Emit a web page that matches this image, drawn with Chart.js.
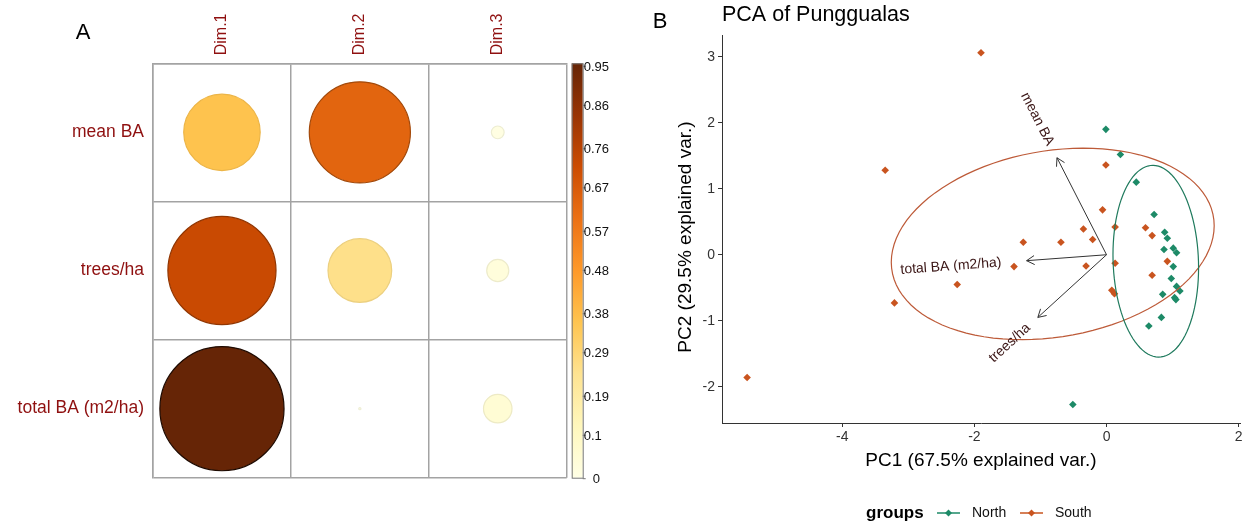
<!DOCTYPE html>
<html>
<head>
<meta charset="utf-8">
<script src="https://cdn.jsdelivr.net/npm/chart.js@4.4.1/dist/chart.umd.min.js"></script>
<style>
  body { margin: 0; background: #fff; width: 1250px; height: 524px; overflow: hidden; position: relative; }
  #wrapA { position: absolute; left: 0; top: 0; width: 630px; height: 541px; z-index: 1; }
  #wrapB { position: absolute; left: 620px; top: 0; width: 630px; height: 524px; z-index: 2; }
</style>
</head>
<body>
<div id="wrapA"><canvas id="corrChart" width="630" height="541"></canvas></div>
<div id="wrapB"><canvas id="pcaChart" width="630" height="524"></canvas></div>
<script>
// panel A : cos2 des variables
const dims = ['Dim.1', 'Dim.2', 'Dim.3'];
const variables = ['mean BA', 'trees/ha', 'total BA (m2/ha)'];
const cos2Dim1 = [0.36, 0.72, 0.95];
const cos2Dim2 = [0.63, 0.25, 0.0003];
const cos2Dim3 = [0.01, 0.03, 0.05];
const colorbarTicks = [0, 0.1, 0.19, 0.29, 0.38, 0.48, 0.57, 0.67, 0.76, 0.86, 0.95];

// panel B : scores PCA
const northX = [-0.01, 0.21, 0.45, 0.72, 0.88, 0.92, 0.87, 1.01, 1.06, 1.01, 0.98, 1.06, 1.11, 0.85, 1.03, 1.05, 0.83, 0.64, -0.51];
const northY = [1.90, 1.52, 1.10, 0.61, 0.34, 0.25, 0.08, 0.10, 0.03, -0.18, -0.36, -0.48, -0.55, -0.60, -0.65, -0.68, -0.95, -1.08, -2.27];
const southX = [-1.90, -3.35, -5.44, -3.21, -2.26, -1.40, -1.26, -0.69, -0.35, -0.21, -0.31, -0.06, -0.01, 0.13, 0.13, 0.08, 0.12, 0.59, 0.69, 0.92, 0.69];
const southY = [3.06, 1.28, -1.86, -0.73, -0.45, -0.18, 0.19, 0.19, 0.39, 0.23, -0.17, 0.68, 1.36, 0.42, -0.13, -0.54, -0.59, 0.41, 0.29, -0.10, -0.31];
const loadingX = [-0.75, -1.04, -1.21];
const loadingY = [1.47, -0.95, -0.09];
const pcXTicks = [-4, -2, 0, 2];
const pcYTicks = [-2, -1, 0, 1, 2, 3];

const FONT = '"Liberation Sans", Arial, sans-serif';
Chart.defaults.font.family = FONT;

const ylOrBr = ['#FFFFE5', '#FFF7BC', '#FEE391', '#FEC44F', '#FE9929', '#EC7014', '#CC4C02', '#993404', '#662506'];
const northColor = '#1d8a67';
const southColor = '#c9541f';

function hexToRgb(h) {
  return [parseInt(h.slice(1, 3), 16), parseInt(h.slice(3, 5), 16), parseInt(h.slice(5, 7), 16)];
}

function colorFor(v, dark) {
  let t = Math.max(0, Math.min(1, v / 0.95)) * (ylOrBr.length - 1);
  let i = Math.min(Math.floor(t), ylOrBr.length - 2);
  let f = t - i;
  let a = hexToRgb(ylOrBr[i]), b = hexToRgb(ylOrBr[i + 1]);
  let c = a.map((x, k) => Math.round((x + (b[k] - x) * f) * (dark || 1)));
  return 'rgb(' + c.join(',') + ')';
}

// grille : 3 cases de 138 px, a partir de x=153, y=63
// (le canvas depasse un peu a droite/en bas car chart.js reserve le rayon max des bulles)
const cellSize = 138;
const corrLeft = 153, corrTop = 63;

const cos2 = [cos2Dim1, cos2Dim2, cos2Dim3];
const bubbleData = [];
const bubbleFill = [];
const bubbleEdge = [];
dims.forEach((d, j) => {
  variables.forEach((name, i) => {
    const v = cos2[j][i];
    bubbleData.push({ x: d, y: name, r: 0.45 * cellSize * Math.sqrt(v / 0.95) });
    bubbleFill.push(colorFor(v));
    bubbleEdge.push(colorFor(v, v > 0.9 ? 0.3 : v > 0.5 ? 0.72 : 0.93));
  });
});

const gridGray = '#a3a3a3';
const labelRed = '#8f1010';

// barre de couleurs, etiquettes Dim, lettre A
const corrExtras = {
  id: 'corrExtras',
  afterDraw(chart) {
    const ctx = chart.ctx, ca = chart.chartArea, xs = chart.scales.x;
    const x0 = ca.right + 5, w = 11;
    const max = colorbarTicks[colorbarTicks.length - 1];
    ctx.save();
    const grad = ctx.createLinearGradient(0, ca.bottom, 0, ca.top);
    ylOrBr.forEach((c, i) => grad.addColorStop(i / (ylOrBr.length - 1), c));
    ctx.fillStyle = grad;
    ctx.fillRect(x0, ca.top, w, ca.bottom - ca.top);
    ctx.strokeStyle = '#777';
    ctx.lineWidth = 1;
    ctx.strokeRect(x0 + 0.5, ca.top + 0.5, w, ca.bottom - ca.top);
    ctx.font = '13px ' + FONT;
    ctx.fillStyle = '#111';
    ctx.textBaseline = 'middle';
    ctx.textAlign = 'left';
    colorbarTicks.forEach(v => {
      const y = ca.bottom + 1 - (v / max) * (ca.bottom - ca.top - 2);
      ctx.beginPath();
      ctx.moveTo(x0 + w, y);
      ctx.lineTo(x0 + w + 3, y);
      ctx.stroke();
      ctx.fillText(String(v), x0 + w + (v === 0 ? 10 : 1), y + 1);
    });
    // column labels
    ctx.font = '16px ' + FONT;
    ctx.fillStyle = labelRed;
    dims.forEach(d => {
      ctx.save();
      ctx.translate(xs.getPixelForValue(d), ca.top - 8);
      ctx.rotate(-Math.PI / 2);
      ctx.fillText(d, 0, 0);
      ctx.restore();
    });
    ctx.font = '22px ' + FONT;
    ctx.fillStyle = '#000';
    ctx.textAlign = 'center';
    ctx.fillText('A', 83, 33);
    ctx.restore();
  }
};

new Chart(document.getElementById('corrChart'), {
  type: 'bubble',
  data: {
    datasets: [{
      data: bubbleData,
      backgroundColor: bubbleFill,
      borderColor: bubbleEdge,
      borderWidth: 1.2,
      hoverRadius: 0
    }]
  },
  options: {
    responsive: false,
    animation: false,
    events: [],
    layout: { padding: 0 },
    plugins: { legend: { display: false }, tooltip: { enabled: false } },
    scales: {
      x: {
        type: 'category',
        labels: dims,
        position: 'top',
        offset: true,
        grid: { offset: true, color: gridGray, lineWidth: 1.5, drawTicks: false },
        border: { color: gridGray, width: 1.5 },
        ticks: { display: false },
        afterFit: s => { s.height = corrTop; }
      },
      y: {
        type: 'category',
        labels: variables,
        offset: true,
        grid: { offset: true, color: gridGray, lineWidth: 1.5, drawTicks: false },
        border: { color: gridGray, width: 1.5 },
        ticks: { color: labelRed, font: { size: 17.5 }, padding: 9 },
        afterFit: s => { s.width = corrLeft; }
      }
    }
  },
  plugins: [corrExtras]
});

// ellipse normale (comme ggbiplot, prob 0.68)
function dataEllipse(xs, ys) {
  const n = xs.length;
  const mx = xs.reduce((a, b) => a + b, 0) / n;
  const my = ys.reduce((a, b) => a + b, 0) / n;
  let sxx = 0, syy = 0, sxy = 0;
  for (let i = 0; i < n; i++) {
    sxx += (xs[i] - mx) ** 2;
    syy += (ys[i] - my) ** 2;
    sxy += (xs[i] - mx) * (ys[i] - my);
  }
  sxx /= n - 1; syy /= n - 1; sxy /= n - 1;
  const a = Math.sqrt(sxx), b = sxy / a, c = Math.sqrt(syy - b * b);
  const ed = Math.sqrt(-2 * Math.log(1 - 0.68));
  const pts = [];
  for (let k = 0; k <= 100; k++) {
    const t = -Math.PI + 2 * Math.PI * k / 100;
    const u = Math.cos(t), w = Math.sin(t);
    pts.push({ x: mx + ed * u * a, y: my + ed * (u * b + w * c) });
  }
  return pts;
}

const ellipses = [
  { pts: dataEllipse(southX, southY), color: '#bd5a38' },
  { pts: dataEllipse(northX, northY), color: '#1f7a5d' }
];

const pcaExtras = {
  id: 'pcaExtras',
  beforeDatasetsDraw(chart) {
    const ctx = chart.ctx, xs = chart.scales.x, ys = chart.scales.y;
    ctx.save();
    // arrows
    const ox = xs.getPixelForValue(0), oy = ys.getPixelForValue(0);
    ctx.strokeStyle = '#333';
    ctx.lineWidth = 1;
    loadingX.forEach((lx, i) => {
      const tx = xs.getPixelForValue(lx), ty = ys.getPixelForValue(loadingY[i]);
      const ang = Math.atan2(ty - oy, tx - ox);
      ctx.beginPath();
      ctx.moveTo(ox, oy);
      ctx.lineTo(tx, ty);
      ctx.moveTo(tx - 9 * Math.cos(ang - Math.PI / 6), ty - 9 * Math.sin(ang - Math.PI / 6));
      ctx.lineTo(tx, ty);
      ctx.lineTo(tx - 9 * Math.cos(ang + Math.PI / 6), ty - 9 * Math.sin(ang + Math.PI / 6));
      ctx.stroke();
    });
    ctx.restore();
  },
  afterDatasetsDraw(chart) {
    const ctx = chart.ctx, xs = chart.scales.x, ys = chart.scales.y, ca = chart.chartArea;
    ctx.save();
    ctx.beginPath();
    ctx.rect(ca.left, ca.top, ca.right - ca.left, ca.bottom - ca.top);
    ctx.clip();
    ellipses.forEach(e => {
      ctx.beginPath();
      e.pts.forEach((p, k) => {
        const px = xs.getPixelForValue(p.x), py = ys.getPixelForValue(p.y);
        if (k === 0) ctx.moveTo(px, py); else ctx.lineTo(px, py);
      });
      ctx.strokeStyle = e.color;
      ctx.lineWidth = 1.2;
      ctx.stroke();
    });
    // variable labels
    ctx.font = '14px ' + FONT;
    ctx.fillStyle = '#3a1515';
    ctx.textAlign = 'center';
    ctx.textBaseline = 'middle';
    variables.forEach((name, i) => {
      const lx = loadingX[i], ly = loadingY[i];
      const tx = xs.getPixelForValue(lx), ty = ys.getPixelForValue(ly);
      const theta = Math.atan(ly / lx);
      const w = ctx.measureText(name).width;
      const dx = Math.cos(-theta), dy = Math.sin(-theta);
      const s = Math.sign(lx) * 0.75 * w;
      ctx.save();
      ctx.translate(tx + s * dx, ty + s * dy);
      ctx.rotate(-theta);
      ctx.fillText(name, 0, 0);
      ctx.restore();
    });
    ctx.restore();
  },
  afterDraw(chart) {
    const ctx = chart.ctx, ca = chart.chartArea;
    ctx.save();
    ctx.fillStyle = '#000';
    ctx.textBaseline = 'middle';
    ctx.font = '22px ' + FONT;
    ctx.textAlign = 'center';
    ctx.fillText('B', 40, 22);
    ctx.font = '21.5px ' + FONT;
    ctx.textAlign = 'left';
    ctx.fillText('PCA of Punggualas', ca.left, 15);
    ctx.font = '19px ' + FONT;
    ctx.textAlign = 'center';
    ctx.fillText('PC1 (67.5% explained var.)', (ca.left + ca.right) / 2, 461);
    ctx.save();
    ctx.translate(66, (ca.top + ca.bottom) / 2 + 8);
    ctx.rotate(-Math.PI / 2);
    ctx.fillText('PC2 (29.5% explained var.)', 0, 0);
    ctx.restore();
    // legend
    ctx.font = 'bold 17px ' + FONT;
    ctx.textAlign = 'left';
    ctx.fillText('groups', 246, 513);
    const items = [['North', northColor, 317], ['South', southColor, 400]];
    items.forEach(([lab, col, x]) => {
      ctx.strokeStyle = col;
      ctx.lineWidth = 1.5;
      ctx.beginPath();
      ctx.moveTo(x, 513);
      ctx.lineTo(x + 23, 513);
      ctx.stroke();
      ctx.fillStyle = col;
      ctx.beginPath();
      ctx.moveTo(x + 11.5, 509.5);
      ctx.lineTo(x + 15, 513);
      ctx.lineTo(x + 11.5, 516.5);
      ctx.lineTo(x + 8, 513);
      ctx.closePath();
      ctx.fill();
      ctx.fillStyle = '#111';
      ctx.font = '14px ' + FONT;
      ctx.fillText(lab, x + 35, 513);
    });
    ctx.restore();
  }
};

new Chart(document.getElementById('pcaChart'), {
  type: 'scatter',
  data: {
    datasets: [
      {
        label: 'North',
        data: northX.map((x, i) => ({ x: x, y: northY[i] })),
        pointStyle: 'rectRot', radius: 3.8,
        backgroundColor: northColor, borderColor: northColor, borderWidth: 0
      },
      {
        label: 'South',
        data: southX.map((x, i) => ({ x: x, y: southY[i] })),
        pointStyle: 'rectRot', radius: 3.8,
        backgroundColor: southColor, borderColor: southColor, borderWidth: 0
      }
    ]
  },
  options: {
    responsive: false,
    animation: false,
    events: [],
    layout: { padding: { left: 0, top: 35, right: 10, bottom: 0 } },
    plugins: { legend: { display: false }, tooltip: { enabled: false } },
    scales: {
      x: {
        min: -5.82, max: 2.02,
        afterBuildTicks: s => { s.ticks = pcXTicks.map(v => ({ value: v })); },
        afterFit: s => { s.height = 101; },
        grid: { drawOnChartArea: false, drawTicks: true, tickLength: 4, color: '#333' },
        border: { color: '#333', width: 1 },
        ticks: { color: '#333', font: { size: 14 }, padding: 2 }
      },
      y: {
        min: -2.55, max: 3.33,
        afterBuildTicks: s => { s.ticks = pcYTicks.map(v => ({ value: v })); },
        afterFit: s => { s.width = 102; },
        grid: { drawOnChartArea: false, drawTicks: true, tickLength: 4, color: '#333' },
        border: { color: '#333', width: 1 },
        ticks: { color: '#333', font: { size: 14 }, padding: 3 }
      }
    }
  },
  plugins: [pcaExtras]
});
</script>
</body>
</html>
